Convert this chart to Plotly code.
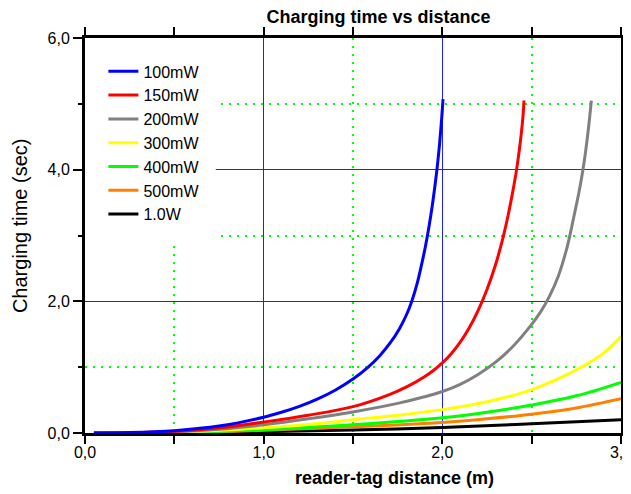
import plotly.graph_objects as go

# ---- data ----
names = ["100mW", "150mW", "200mW", "300mW", "400mW", "500mW", "1.0W"]
colors = ["#0000ff", "#ff0000", "#808080", "#ffff00", "#00ff00", "#ff8000", "#000000"]

x_100 = [0.05, 0.25, 0.5, 0.75, 1.0, 1.1, 1.2, 1.3, 1.4, 1.5, 1.58, 1.65, 1.71, 1.76, 1.8, 1.83, 1.858, 1.882, 1.905, 1.925, 1.943, 1.958, 1.971, 1.982, 1.991, 1.998, 2.004]
y_100 = [0.0, 0.006, 0.036, 0.105, 0.24, 0.315, 0.405, 0.515, 0.65, 0.82, 0.99, 1.175, 1.375, 1.585, 1.80, 2.01, 2.26, 2.535, 2.83, 3.13, 3.44, 3.74, 4.03, 4.32, 4.6, 4.84, 5.07]

x_150 = [0.05, 0.25, 0.5, 0.75, 1.0, 1.25, 1.5, 1.7, 1.8, 1.9, 1.95, 2.0, 2.05, 2.1, 2.15, 2.2, 2.25, 2.3, 2.34, 2.37, 2.395, 2.412, 2.428, 2.442, 2.452, 2.457]
y_150 = [0.0, 0.004, 0.026, 0.077, 0.167, 0.27, 0.40, 0.58, 0.70, 0.855, 0.95, 1.065, 1.205, 1.38, 1.595, 1.86, 2.18, 2.575, 2.97, 3.33, 3.68, 3.94, 4.24, 4.55, 4.83, 5.05]

x_200 = [0.05, 0.25, 0.5, 0.75, 1.0, 1.25, 1.5, 1.75, 1.9, 2.0, 2.1, 2.2, 2.3, 2.4, 2.5, 2.55, 2.6, 2.65, 2.7, 2.735, 2.765, 2.781, 2.796, 2.811, 2.824, 2.834]
y_200 = [0.0, 0.003, 0.02, 0.057, 0.125, 0.215, 0.32, 0.45, 0.55, 0.63, 0.74, 0.89, 1.08, 1.33, 1.65, 1.84, 2.08, 2.39, 2.84, 3.27, 3.66, 3.9, 4.16, 4.47, 4.78, 5.05]

x_300 = [0.05, 0.5, 0.866, 1.0, 1.25, 1.5, 1.75, 2.0, 2.25, 2.5, 2.75, 2.9, 3.0]
y_300 = [0.0, 0.013, 0.056, 0.08, 0.13, 0.20, 0.27, 0.355, 0.475, 0.66, 0.96, 1.21, 1.47]

x_400 = [0.05, 0.5, 1.0, 1.5, 2.0, 2.25, 2.5, 2.75, 3.0]
y_400 = [0.0, 0.009, 0.05, 0.125, 0.23, 0.315, 0.425, 0.565, 0.77]

x_500 = [0.05, 0.5, 1.0, 1.5, 2.0, 2.25, 2.5, 2.75, 3.0]
y_500 = [0.0, 0.006, 0.04, 0.095, 0.16, 0.215, 0.285, 0.38, 0.52]

x_1w = [0.05, 0.5, 1.0, 1.5, 2.0, 2.5, 3.0]
y_1w = [0.0, 0.003, 0.02, 0.045, 0.085, 0.14, 0.2]

xs = [x_100, x_150, x_200, x_300, x_400, x_500, x_1w]
ys = [y_100, y_150, y_200, y_300, y_400, y_500, y_1w]

x_ticks = [0, 1, 2, 3]
x_minor = [0.5, 1.5, 2.5]
y_ticks = [0, 2, 4, 6]
y_minor = [1, 3, 5]

FONT = "Liberation Sans, Arial, Helvetica, sans-serif"

# the page body has an 8px margin: the figure is sized so it ends at the window edge
W, H = 623, 486

fig = go.Figure()
# add in reverse so that 100mW is drawn on top
for i in reversed(range(len(names))):
    fig.add_trace(go.Scatter(
        x=xs[i], y=ys[i], mode="lines", name=names[i],
        line=dict(color=colors[i], width=3, shape="spline", smoothing=1.0),
    ))

grid_minor = dict(showgrid=True, gridcolor="#00ff00", gridwidth=2, griddash="2px,6px",
                  ticks="outside", tickcolor="black", tickwidth=2)

fig.update_layout(
    width=W, height=H,
    margin=dict(l=77, r=10, t=30, b=61),
    paper_bgcolor="white", plot_bgcolor="white",
    separators=", ",
    font=dict(family=FONT, color="black", size=16),
    showlegend=True,
    legend=dict(x=0.0343, y=0.9585, xanchor="left", yanchor="top",
                bgcolor="rgba(0,0,0,0)", borderwidth=0,
                traceorder="reversed", font=dict(size=16, family=FONT)),
    title=dict(text="<b>Charging time vs distance</b>", x=(378.5 - 8) / W, xref="container",
               xanchor="center", y=1 - 8.5 / H, yref="container", yanchor="middle",
               font=dict(size=18, family=FONT)),
    xaxis=dict(range=[0, 3], tickvals=x_ticks, tickformat=".1f", automargin=False,
               showline=True, linecolor="black", linewidth=3, mirror="ticks",
               ticks="outside", ticklen=8, tickwidth=2, tickcolor="black",
               ticklabelstandoff=-5, ticklabeloverflow="allow",
               showgrid=True, gridcolor="#2020ff", gridwidth=1.3,
               zeroline=False, tickfont=dict(size=16),
               minor=dict(tickmode="array", tickvals=x_minor, ticklen=8, **grid_minor)),
    yaxis=dict(range=[0, 6], tickvals=y_ticks, tickformat=".1f", automargin=False,
               showline=True, linecolor="black", linewidth=3, mirror="ticks",
               ticks="outside", ticklen=9, tickwidth=2, tickcolor="black",
               ticklabeloverflow="allow",
               showgrid=True, gridcolor="#2020ff", gridwidth=1.3,
               zeroline=False, tickfont=dict(size=16),
               minor=dict(tickmode="array", tickvals=y_minor, ticklen=4, **grid_minor)),
)

# white legend background that hides the grid behind the legend (drawn below traces)
fig.add_shape(type="rect", xref="x", yref="y", x0=0, x1=0.732, y0=2.92, y1=6,
              fillcolor="white", line=dict(width=0), layer="between")

fig.add_annotation(text="<b>reader-tag distance (m)</b>", xref="paper", yref="paper",
                   x=(395 - 85.3) / 535.7, y=(432.7 - 478) / 395.2,
                   xanchor="center", yanchor="middle", showarrow=False,
                   font=dict(size=18, family=FONT))
fig.add_annotation(text="Charging time (sec)", xref="paper", yref="paper",
                   x=(21 - 85.3) / 535.7, y=(432.7 - 225) / 395.2, textangle=-90,
                   xanchor="center", yanchor="middle", showarrow=False,
                   font=dict(size=20, family=FONT))

fig.write_html("out.html")
